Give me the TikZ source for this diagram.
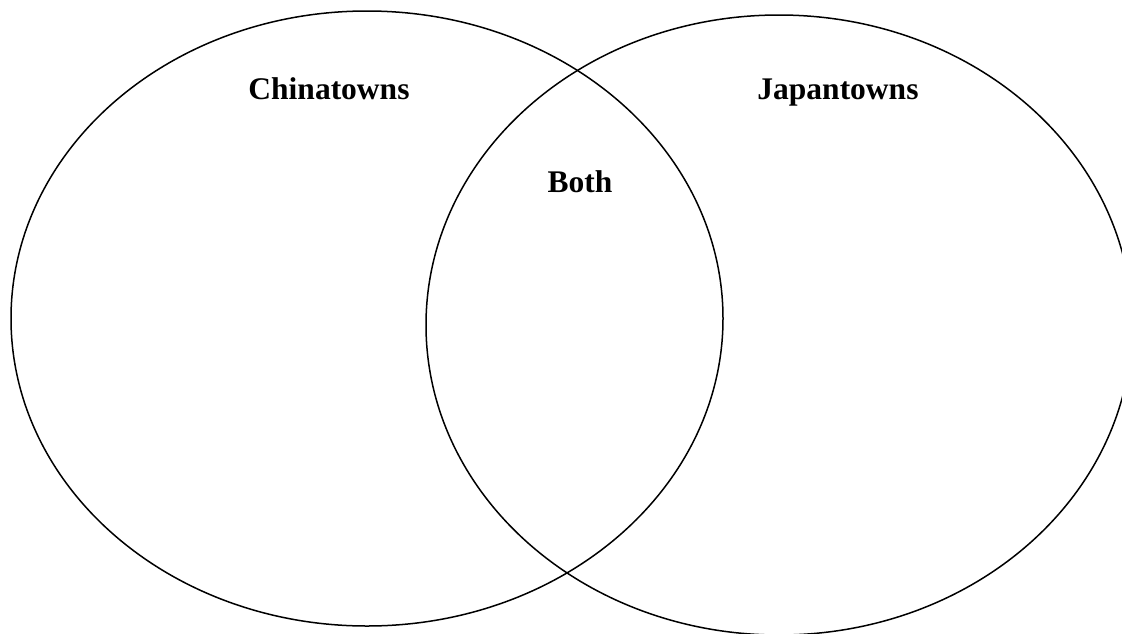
\documentclass[tikz,border=0pt]{standalone}
\usepackage{fontspec}
\setmainfont{Liberation Serif}
\usetikzlibrary{shapes.geometric}

\begin{document}
\begin{tikzpicture}[
  x=1pt, y=-1pt,
  set/.style={ellipse, draw=black, line width=1.5pt, inner sep=0pt},
  label/.style={font=\fontsize{31.5}{36}\selectfont\bfseries, anchor=base, inner sep=0pt}
]
\useasboundingbox (0,0) rectangle (1122,633);
\clip (0,0) rectangle (1122,633);

\node[set, minimum width=712pt, minimum height=615pt] (china) at (367,318.5) {};
\node[set, minimum width=706pt, minimum height=620pt] (japan) at (779,325) {};

\node[label] (chinatowns) at (329,99)  {Chinatowns};
\node[label] (japantowns) at (838,99)  {Japantowns};
\node[label] (both)       at (580,192) {Both};
\end{tikzpicture}
\end{document}
